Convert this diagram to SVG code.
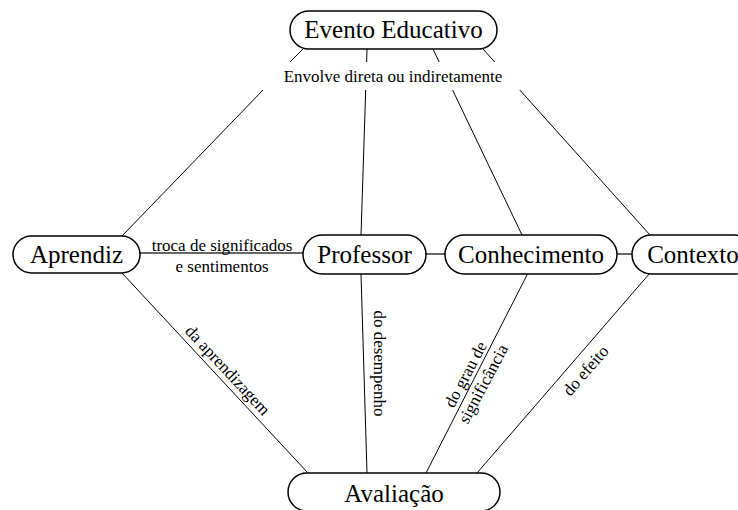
<svg xmlns="http://www.w3.org/2000/svg" width="738" height="510" viewBox="0 0 738 510">
<style>
.node rect{fill:#fff;stroke:#000;stroke-width:1.5}
.node text{font-family:"Liberation Serif","Times New Roman",serif;font-size:25px;fill:#000;text-anchor:middle}
.lbl{font-family:"Liberation Serif","Times New Roman",serif;font-size:17px;fill:#000;text-anchor:middle}
.c{stroke:#000;stroke-width:1;fill:none}
.h{stroke:#666;stroke-width:2;fill:none}
</style>
<rect width="738" height="510" fill="#fff"/>
<g id="connectors">
<line class="c" x1="303" y1="49" x2="290" y2="62"/>
<line class="c" x1="263" y1="90" x2="122" y2="236"/>
<line class="c" x1="367" y1="49" x2="366.6" y2="62"/>
<line class="c" x1="365.7" y1="90" x2="361" y2="235"/>
<line class="c" x1="433" y1="49" x2="439.2" y2="62"/>
<line class="c" x1="452.6" y1="90" x2="522" y2="235"/>
<line class="c" x1="483" y1="49" x2="494.7" y2="62"/>
<line class="c" x1="519.8" y1="90" x2="650" y2="235"/>
<line class="c" x1="122" y1="273" x2="308" y2="473"/>
<line class="c" x1="361" y1="274" x2="367" y2="473"/>
<line class="c" x1="528" y1="273" x2="426" y2="473"/>
<line class="c" x1="650" y1="273" x2="477" y2="473"/>
<line class="h" x1="140" y1="253" x2="303" y2="253"/>
<line class="h" x1="426" y1="254" x2="445" y2="254"/>
<line class="h" x1="617" y1="254" x2="632" y2="254"/>
<text class="lbl" x="393" y="82">Envolve direta ou indiretamente</text>
<text class="lbl" x="222" y="251">troca de significados</text>
<text class="lbl" x="222" y="272">e sentimentos</text>
<text class="lbl" transform="translate(223.6,374.1) rotate(47)">da aprendizagem</text>
<text class="lbl" transform="translate(374,363.5) rotate(90)">do desempenho</text>
<g transform="translate(474,379) rotate(-62)">
<text class="lbl" x="0" y="-4">do grau de</text>
<text class="lbl" x="0" y="16">significância</text>
</g>
<text class="lbl" transform="translate(589.8,374.3) rotate(-49)">do efeito</text>
</g>
<g id="evento" class="node"><rect x="290" y="11" width="207" height="38" rx="19"/><text x="393.5" y="38">Evento Educativo</text></g>
<g id="aprendiz" class="node"><rect x="13" y="236" width="127" height="37" rx="18.5"/><text x="76.5" y="263">Aprendiz</text></g>
<g id="professor" class="node"><rect x="303" y="235" width="123" height="39" rx="19.5"/><text x="364.5" y="263">Professor</text></g>
<g id="conhecimento" class="node"><rect x="445" y="235" width="172" height="39" rx="19.5"/><text x="531" y="263">Conhecimento</text></g>
<g id="contexto" class="node"><rect x="632" y="235" width="122" height="39" rx="19.5"/><text x="693" y="263">Contexto</text></g>
<g id="avaliacao" class="node"><rect x="288" y="473" width="212" height="38" rx="19"/><text x="394" y="502">Avaliação</text></g>
</svg>
